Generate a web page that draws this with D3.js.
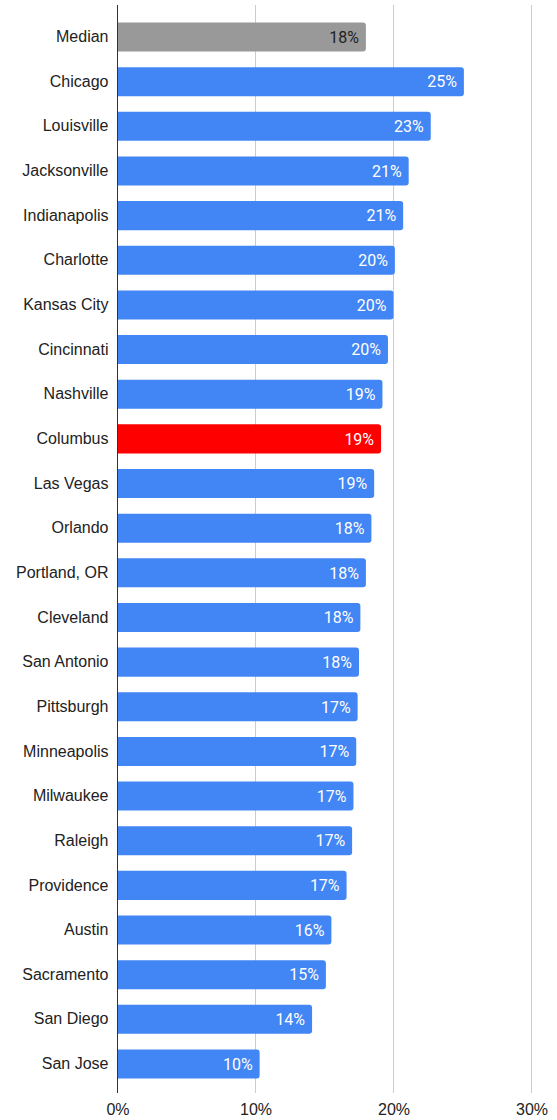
<!DOCTYPE html>
<html><head><meta charset="utf-8">
<script src="https://cdn.jsdelivr.net/npm/d3@7"></script>
<style>html,body{margin:0;padding:0;background:#fff;}svg{display:block;font-family:"Liberation Sans",Arial,Helvetica,sans-serif;}</style>
</head><body>
<svg id="chart" width="557" height="1120"></svg>
<script>
const cities = ["Median","Chicago","Louisville","Jacksonville","Indianapolis","Charlotte","Kansas City","Cincinnati","Nashville","Columbus","Las Vegas","Orlando","Portland, OR","Cleveland","San Antonio","Pittsburgh","Minneapolis","Milwaukee","Raleigh","Providence","Austin","Sacramento","San Diego","San Jose"];
const shares = [0.180,0.251,0.227,0.211,0.207,0.201,0.200,0.196,0.192,0.191,0.186,0.184,0.180,0.176,0.175,0.174,0.173,0.171,0.170,0.166,0.155,0.151,0.141,0.103];
const tickValues = [0,0.1,0.2,0.3];
const highlight = {"Median":"#999999","Columbus":"#ff0000"};
const baseColor = "#4285f4";

(function(){
const svg = d3.select("#chart");
const x = d3.scaleLinear().domain([0,0.3]).range([117.5,531.5]);
const y = d3.scaleBand().domain(cities).range([14.7,1086.3]).paddingInner(0.35).paddingOuter(0.175);
const plotTop = 5, plotBottom = 1093;

svg.append("g").selectAll("line").data(tickValues.slice(1)).join("line")
  .attr("x1",d=>x(d)).attr("x2",d=>x(d)).attr("y1",plotTop).attr("y2",plotBottom)
  .attr("stroke","#cccccc").attr("stroke-width",1);

const data = cities.map((c,i)=>({city:c,v:shares[i]}));
const r = 3;
svg.append("g").selectAll("path").data(data).join("path")
  .attr("fill",d=>highlight[d.city]||baseColor)
  .attr("d",d=>{
    const x0=x(0), x1=x(d.v), y0=y(d.city), h=y.bandwidth();
    return `M${x0},${y0}H${x1-r}Q${x1},${y0} ${x1},${y0+r}V${y0+h-r}Q${x1},${y0+h} ${x1-r},${y0+h}H${x0}Z`;
  });

const fmt = d3.format(".0%");
svg.append("g").selectAll("text").data(data).join("text")
  .attr("x",d=>x(d.v)-7).attr("y",d=>y(d.city)+y.bandwidth()/2)
  .attr("dy","0.36em").attr("text-anchor","end").attr("font-size",16)
  .attr("font-family","Roboto, 'Liberation Sans', Arial, sans-serif")
  .attr("fill",d=>d.city==="Median"?"#222":"#fff")
  .text(d=>fmt(d.v));

svg.append("line").attr("x1",x(0)).attr("x2",x(0)).attr("y1",plotTop).attr("y2",plotBottom)
  .attr("stroke","#333").attr("stroke-width",1);

const yAxis = d3.axisLeft(y).tickSize(0).tickPadding(9);
const ga = svg.append("g").attr("transform",`translate(${x(0)},0)`).call(yAxis);
ga.select(".domain").remove();
ga.selectAll("text").attr("font-size",16).attr("fill","#222").attr("font-family","inherit");

const xAxis = d3.axisBottom(x).tickValues(tickValues).tickFormat(d3.format(".0%")).tickSize(0).tickPadding(11);
const gx = svg.append("g").attr("transform",`translate(0,${plotBottom})`).call(xAxis);
gx.select(".domain").remove();
gx.selectAll("text").attr("font-size",16).attr("fill","#222").attr("font-family","inherit");
})();
</script>
</body></html>
